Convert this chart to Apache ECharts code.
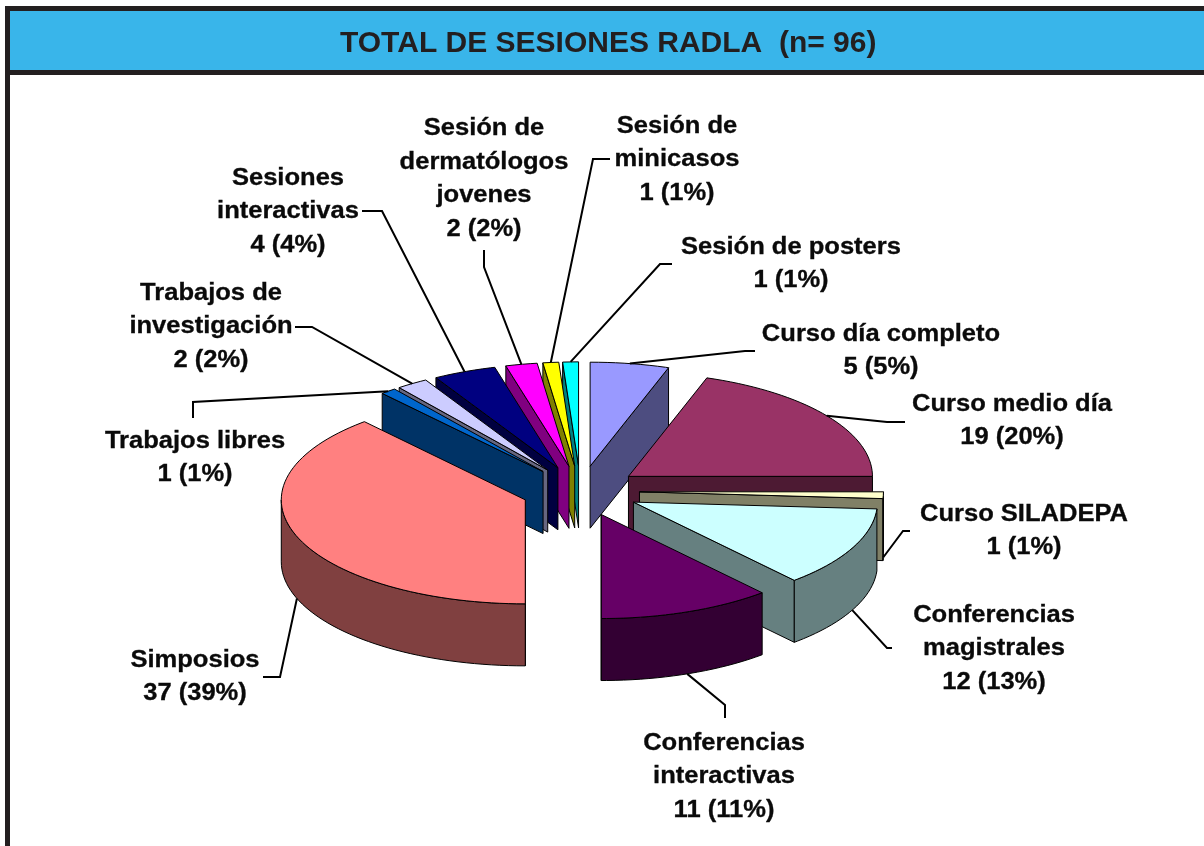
<!DOCTYPE html>
<html><head><meta charset="utf-8">
<style>html,body{margin:0;padding:0;background:#fff}#c{width:1204px;height:846px}</style>
<script src="https://cdn.jsdelivr.net/npm/echarts@6/dist/echarts.min.js"></script>
</head><body><div id="c"></div>
<script>
var titleText = 'TOTAL DE SESIONES RADLA  (n= 96)';
var names = ['Curso día completo','Curso medio día','Curso SILADEPA','Conferencias\nmagistrales','Conferencias\ninteractivas','Simposios','Trabajos libres','Trabajos de\ninvestigación','Sesiones\ninteractivas','Sesión de\ndermatólogos\njovenes','Sesión de\nminicasos','Sesión de posters'];
var values = [5,19,1,12,11,37,1,2,4,2,1,1];
var percents = [5,20,1,13,11,39,1,2,4,2,1,1];
var topColors = ['#9999ff','#993366','#ffffcc','#ccffff','#660066','#ff8080','#0066cc','#ccccff','#000080','#ff00ff','#ffff00','#00ffff'];
var sideColors = ['#4d4d80','#4d1a33','#808066','#668080','#330033','#804040','#003366','#666680','#000040','#800080','#808000','#008080'];
// label layout: centre of the text block, and leader elbow points from label to slice
var labelCentres = [[881,351],[1012,421],[1024,531],[994,649],[724,777],[195,677],[195,458],[211,327],[288,212],[484,179],[677,160],[791,264]];
var leaderElbows = [
 [[755,351],[745,351]],[[905,422],[887,422]],[[910,531],[903,531]],[[892,648],[887,648]],
 [[725,718],[725,705]],[[263,677],[280,677]],[[193,418],[193,402]],[[295,327],[312,327]],
 [[362,211],[382,211]],[[484,250],[484,267]],[[610,159],[593,159]],[[672,264],[660,264]]];

var cx=580.5, cy=491, rx=244, ry=104, depth=62, explode=59, tiltK=ry/rx;
var total=values.reduce(function(a,b){return a+b;},0);
var starts=[],acc=0;
values.forEach(function(v){starts.push(acc/total*360);acc+=v;});
function rad(d){return d*Math.PI/180;}
function apexOf(i){
  var m=rad(starts[i]+values[i]/total*180);
  return [cx+explode*Math.sin(m),cy-explode*tiltK*Math.cos(m)];
}
function rim(a,deg,dy){
  return [a[0]+rx*Math.sin(rad(deg)),a[1]-ry*Math.cos(rad(deg))+(dy||0)];
}
var edge={stroke:'#000',lineWidth:1,lineJoin:'round'};
function poly(points,fill,z){
  return {type:'polygon',z2:z,shape:{points:points},style:Object.assign({fill:fill},edge),silent:true};
}
function renderItem(params,api){
  var i=params.dataIndex, s=starts[i], sweep=api.value(0)/total*360, e=s+sweep, mid=s+sweep/2;
  var a=apexOf(i), kids=[], base=Math.round((180-Math.abs(mid-180))*10)*3;
  var rd=mid<180?e:s;
  kids.push(poly([a,rim(a,rd),rim(a,rd,depth),[a[0],a[1]+depth]],sideColors[i],base));
  var lo=Math.max(s,90),hi=Math.min(e,270);
  if(hi>lo){
    var up=[],dn=[];
    for(var t=lo;;t+=2){var d=Math.min(t,hi);up.push(rim(a,d));dn.unshift(rim(a,d,depth));if(d>=hi)break;}
    kids.push(poly(up.concat(dn),sideColors[i],base+1));
  }
  var pts=[a];
  for(var t2=s;;t2+=2){var d2=Math.min(t2,e);pts.push(rim(a,d2));if(d2>=e)break;}
  kids.push(poly(pts,topColors[i],base+2));
  return {type:'group',children:kids};
}
var graphics=[
 {type:'rect',z:0,shape:{x:5,y:6,width:1199,height:69},style:{fill:'#231f20'},silent:true},
 {type:'rect',z:0,shape:{x:5,y:6,width:5,height:840},style:{fill:'#231f20'},silent:true},
 {type:'rect',z:1,shape:{x:10,y:11,width:1194,height:59},style:{fill:'#39b5ea'},silent:true}
];
var fontLabel='bold 23px "Liberation Sans", Arial, sans-serif';
names.forEach(function(n,i){
  var a=apexOf(i), mid=starts[i]+values[i]/total*180;
  var anchor=rim(a,mid,(mid>90&&mid<270)?depth:0);
  graphics.push({type:'polyline',z:20,silent:true,shape:{points:leaderElbows[i].concat([anchor])},style:{stroke:'#000',lineWidth:2,fill:null}});
  graphics.push({type:'text',z:20,silent:true,x:labelCentres[i][0],y:labelCentres[i][1],scaleX:1.11,
    style:{text:n+'\n'+values[i]+' ('+percents[i]+'%)',font:fontLabel,fill:'#0a0a0a',stroke:'#0a0a0a',lineWidth:0.3,align:'center',verticalAlign:'middle',lineHeight:33.5}});
});
var chart=echarts.init(document.getElementById('c'),null,{renderer:'canvas'});
chart.setOption({
  animation:false,backgroundColor:'#fff',
  title:{text:titleText,left:340,top:29,z:30,padding:0,textStyle:{fontFamily:'"Liberation Sans", Arial, sans-serif',fontWeight:'bold',fontSize:30,color:'#231f20'}},
  tooltip:{show:false},
  graphic:{elements:graphics},
  series:[{type:'custom',coordinateSystem:'none',renderItem:renderItem,data:values,z:10,silent:true,animation:false}]
});
</script></body></html>
